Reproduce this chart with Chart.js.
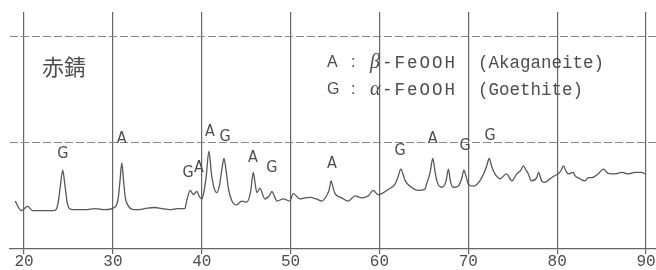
<!DOCTYPE html>
<html>
<head>
<meta charset="utf-8">
<script src="https://cdn.jsdelivr.net/npm/chart.js@4/dist/chart.umd.min.js"></script>
<style>
	html, body { margin: 0; padding: 0; background: #fff; }
	#wrap { width: 656px; height: 270px; }
</style>
</head>
<body>
<div id="wrap"><canvas id="xrd"></canvas></div>
<script>
const twoTheta = [
	19.0, 19.7, 20.4, 21.0, 22.1, 23.3, 23.6, 23.85, 24.1, 24.35, 24.6, 24.85, 25.1, 25.5, 26.9, 28.0,
	29.1, 30.3, 30.6, 30.8, 31.0, 31.2, 31.4, 31.7, 32.1, 32.8, 33.6, 34.7, 35.5, 36.4, 37.3, 38.1,
	38.3, 38.7, 39.05, 39.45, 39.75, 40.0, 40.2, 40.5, 40.8, 41.1, 41.4, 41.7, 42.0, 42.25, 42.5, 42.75,
	43.0, 43.4, 43.9, 44.5, 45.05, 45.5, 45.8, 46.0, 46.2, 46.55, 47.1, 47.6, 47.9, 48.2, 48.45, 49.2,
	49.9, 50.3, 51.05, 51.6, 52.2, 52.9, 53.5, 54.05, 54.35, 54.55, 54.8, 55.0, 55.75, 56.5, 57.25, 58.0,
	58.75, 59.3, 59.85, 60.25, 61.0, 61.75, 62.1, 62.4, 62.7, 62.9, 63.6, 64.35, 65.1, 65.3, 65.7, 66.0,
	66.25, 66.45, 67.0, 67.5, 67.75, 68.0, 68.3, 68.85, 69.25, 69.5, 69.75, 70.0, 70.55, 71.3, 71.8, 72.1,
	72.35, 72.65, 73.0, 73.55, 74.3, 74.9, 75.45, 75.9, 76.2, 76.5, 76.75, 77.1, 77.7, 77.9, 78.25, 78.6,
	79.2, 79.75, 80.1, 80.45, 80.7, 81.0, 81.25, 81.8, 82.0, 82.55, 83.1, 83.5, 83.9, 84.6, 85.2, 85.75,
	86.5, 87.25, 88.0, 88.75, 89.5, 89.9
];
const intensity = [
	45, 36, 40, 36, 36, 36, 37, 44, 60, 74, 60, 44, 38, 37, 37, 38,
	37, 40, 48, 64, 81, 64, 48, 41, 37.5, 37, 38, 39, 38, 37, 38, 38,
	45, 55, 51, 54, 49, 47, 52, 68, 92, 70, 57, 53, 60, 74, 85, 73,
	57, 45, 41.5, 45, 44, 54, 72, 62, 53, 57, 47, 50, 54, 49, 45, 47,
	45, 52, 47, 48, 48.5, 47, 45, 50, 56, 64, 57, 52, 48, 45, 50, 48,
	50, 55, 51, 52, 56, 61, 68, 75, 69, 64, 58, 55, 56, 61, 72, 85,
	73, 64, 58, 64, 75, 63, 58, 59, 66, 74, 68, 61, 59, 64, 72, 79,
	85, 77, 70.5, 66, 70.5, 64, 70.5, 74, 78, 74, 70.5, 64, 67, 72, 64, 62.5,
	66, 69, 70.5, 74, 78, 73, 70.5, 72, 69, 66, 64, 67, 67, 70.5, 75, 71,
	70.5, 72, 70.5, 72, 72, 70.5
];

const xTicks = [20, 30, 40, 50, 60, 70, 80, 90];
const yGridValues = [100, 200];

const peakLabels = ['G', 'A', 'G', 'A', 'A', 'G', 'A', 'G', 'A', 'G', 'A', 'G', 'G'];
const peakLabelX = [24.36, 31.0, 38.46, 39.69, 40.93, 42.62, 45.77, 47.88, 54.66, 62.31, 65.99, 69.63, 72.44];
const peakLabelY = [89.6, 103.8, 71.7, 76.4, 110.4, 105.7, 85.8, 76.4, 80.2, 92.5, 103.8, 97.2, 106.6];

const sampleName = '赤錆';
const legendKeys = ['A', 'G'];
const legendGreek = ['β', 'α'];
const legendNames = ['(Akaganeite)', '(Goethite)'];

const ink = '#4d4d4d';

const annotations = {
	id: 'annotations',
	afterDatasetsDraw(chart) {
		const { ctx, scales } = chart;
		ctx.save();
		ctx.fillStyle = ink;
		ctx.textAlign = 'center';
		ctx.textBaseline = 'middle';
		ctx.font = '16px "Liberation Sans Narrow", "DejaVu Sans Condensed", sans-serif';
		peakLabels.forEach((t, i) => {
			ctx.fillText(t, scales.x.getPixelForValue(peakLabelX[i]), scales.y.getPixelForValue(peakLabelY[i]));
		});

		ctx.textAlign = 'left';
		ctx.font = '22px "Noto Sans CJK JP", sans-serif';
		ctx.fillText(sampleName, 42, 67);

		legendKeys.forEach((k, i) => {
			const y = 63 + i * 27;
			ctx.letterSpacing = '0px';
			ctx.font = '16px "Liberation Sans", sans-serif';
			ctx.fillText(k, 327, y);
			ctx.fillText(':', 351, y);
			ctx.font = 'italic 20px "Liberation Serif", serif';
			ctx.fillText(legendGreek[i], 370, y);
			ctx.font = '17.5px "Liberation Mono", monospace';
			ctx.letterSpacing = '2px';
			ctx.fillText('-FeOOH', 382, y);
			ctx.letterSpacing = '0px';
			ctx.fillText(legendNames[i], 478, y);
		});
		ctx.restore();
	}
};

new Chart(document.getElementById('xrd'), {
	type: 'scatter',
	data: {
		datasets: [{
			data: twoTheta.map((x, i) => ({ x: x, y: intensity[i] })),
			showLine: true,
			borderColor: '#575757',
			borderWidth: 1.3,
			pointRadius: 0,
			cubicInterpolationMode: 'monotone',
		}]
	},
	options: {
		responsive: true,
		maintainAspectRatio: false,
		animation: false,
		layout: { padding: { left: 10, top: 12, right: 0, bottom: 0 } },
		plugins: { legend: { display: false }, tooltip: { enabled: false } },
		scales: {
			x: {
				type: 'linear',
				min: 18.42,
				max: 91.12,
				afterBuildTicks: axis => { axis.ticks = xTicks.map(v => ({ value: v })); },
				grid: { color: '#666', lineWidth: 1.2, tickLength: 5 },
				border: { display: true, color: '#666', width: 1.2 },
				ticks: {
					color: ink,
					padding: 0,
					maxRotation: 0,
					font: { family: '"Liberation Mono", monospace', size: 16, lineHeight: 1 },
				},
			},
			y: {
				min: 0,
				max: 222.64,
				afterBuildTicks: axis => { axis.ticks = yGridValues.map(v => ({ value: v })); },
				grid: { color: '#888', lineWidth: 1, drawTicks: false },
				border: { display: false, dash: [8, 3] },
				ticks: { display: false },
			},
		},
	},
	plugins: [annotations],
});
</script>
</body>
</html>
